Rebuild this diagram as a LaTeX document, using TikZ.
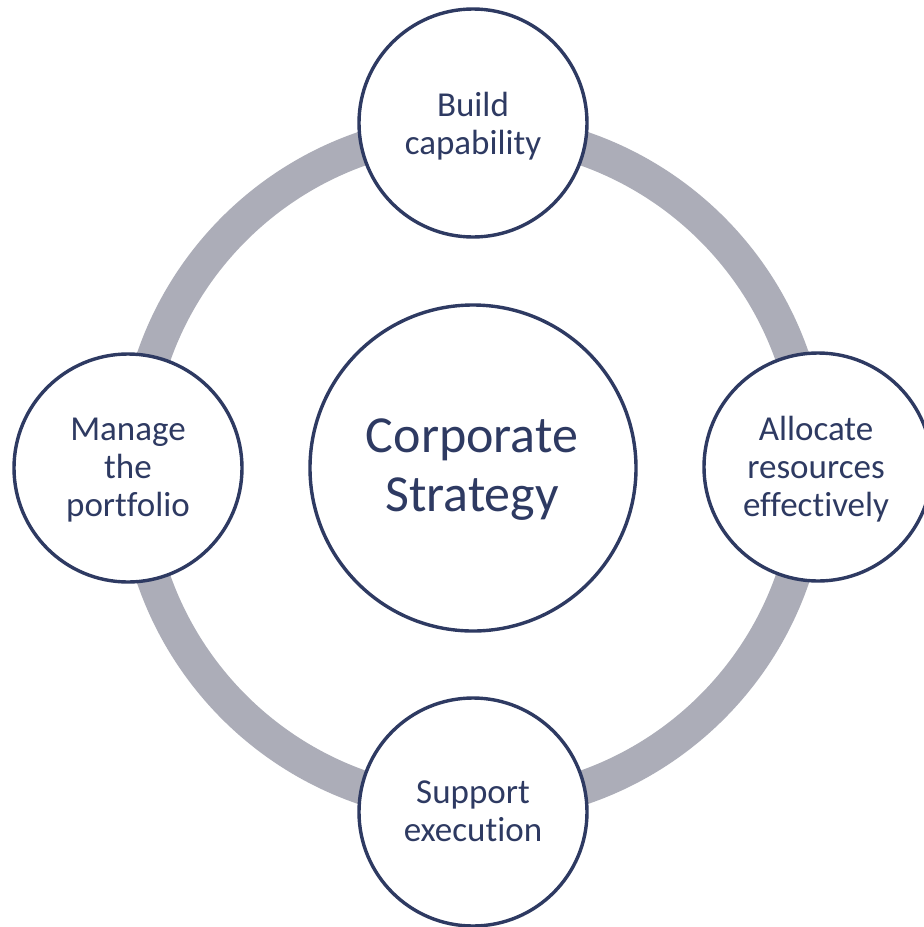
\documentclass[tikz,border=0pt]{standalone}
\usepackage{fontspec}
\setmainfont{Carlito}[Ligatures={NoCommon}]
\usetikzlibrary{calc}
\definecolor{navy}{RGB}{46,58,98}
\definecolor{ringgray}{RGB}{172,173,184}
\begin{document}
\begin{tikzpicture}[x=1pt,y=-1pt,
  ringline/.style={draw=ringgray,line width=34pt},
  bigcirc/.style={circle,draw=navy,fill=white,line width=3.4pt,minimum size=326pt,inner sep=0pt},
  smallcirc/.style={circle,draw=navy,fill=white,line width=3.4pt,minimum size=228pt,inner sep=0pt},
  smalltxt/.style={text=navy,align=center,font=\fontsize{35}{38}\selectfont,inner sep=0pt},
  bigtxt/.style={text=navy,align=center,font=\fontsize{52}{59}\selectfont,inner sep=0pt}]
\clip (0,0) rectangle (924,927);
\fill[white] (0,0) rectangle (924,927);
\coordinate (c) at (473,468);
\draw[ringline] (c) circle[radius=338];
\node[bigcirc] (core) at (473,468) {};
\node[smallcirc] (build) at (473,123) {};
\node[smallcirc] (alloc) at (818,467) {};
\node[smallcirc] (support) at (473,812) {};
\node[smallcirc] (manage) at (128,468) {};
\node[bigtxt] (coret) at (472,470) {Corporate\\Strategy};
\node[smalltxt] (buildt) at (473,126) {Build\\capability};
\node[smalltxt] (alloct) at (816,469.5) {Allocate\\resources\\effectively};
\node[smalltxt] (supportt) at (473,811) {Support\\execution};
\node[smalltxt] (managet) at (128,470) {Manage\\the\\portfolio};
\end{tikzpicture}
\end{document}
